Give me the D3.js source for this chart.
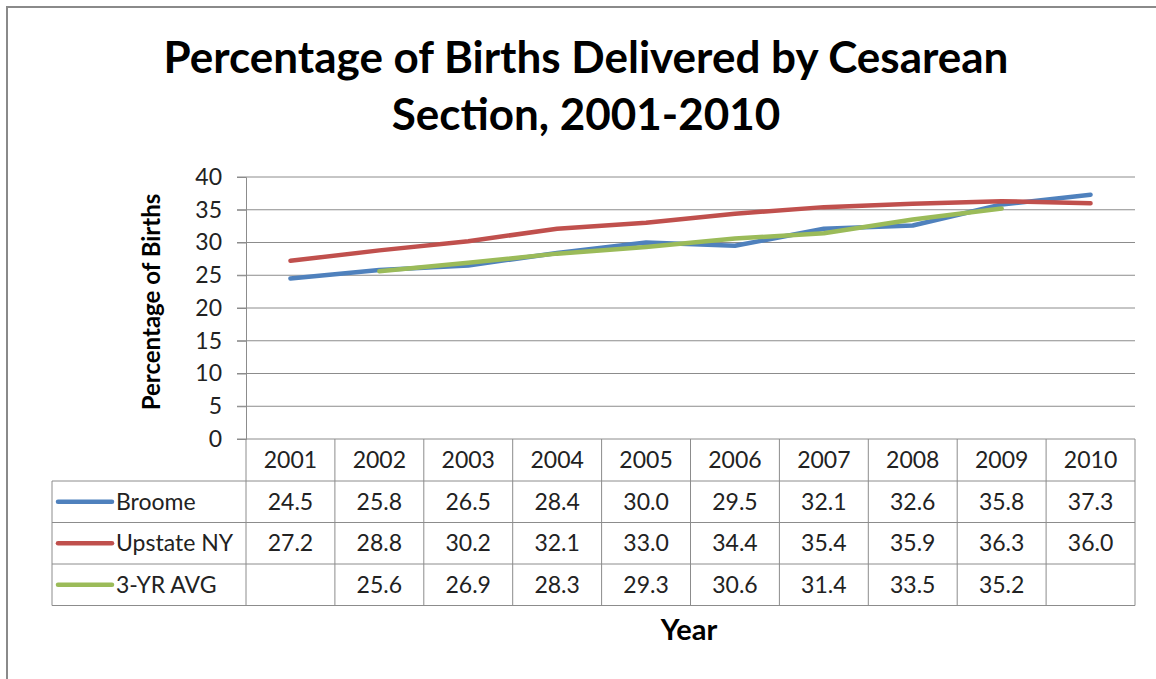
<!DOCTYPE html>
<html>
<head>
<meta charset="utf-8">
<script src="https://cdn.jsdelivr.net/npm/d3@7"></script>
<style>
  body { margin: 0; background: #fff; }
  svg { display: block; }
</style>
</head>
<body>
<div id="chart"></div>
<script>
// data
const years = ["2001", "2002", "2003", "2004", "2005", "2006", "2007", "2008", "2009", "2010"];
const broome = [24.5, 25.8, 26.5, 28.4, 30.0, 29.5, 32.1, 32.6, 35.8, 37.3];
const upstate = [27.2, 28.8, 30.2, 32.1, 33.0, 34.4, 35.4, 35.9, 36.3, 36.0];
const avg3 = [null, 25.6, 26.9, 28.3, 29.3, 30.6, 31.4, 33.5, 35.2, null];
const yTicks = [0, 5, 10, 15, 20, 25, 30, 35, 40];

const series = [
    { name: "Broome", values: broome, color: "#4F81BD" },
    { name: "Upstate NY", values: upstate, color: "#C0504D" },
    { name: "3-YR AVG", values: avg3, color: "#9BBB59" }
];

const width = 1156, height = 679;
const font = "Lato, 'Open Sans', sans-serif";
const gridColor = "#8c8c8c";
const textSize = "23px";

const svg = d3.select("#chart").append("svg")
    .attr("width", width)
    .attr("height", height);

// outer chart border (runs past the right and bottom edge)
svg.append("rect")
    .attr("x", 7).attr("y", 7)
    .attr("width", 1200).attr("height", 720)
    .attr("fill", "none")
    .attr("stroke", "#8a8a8a")
    .attr("stroke-width", 2);

// plot area
const plot = { left: 246, right: 1135, top: 177, bottom: 439 };
const x = d3.scaleBand().domain(years).range([plot.left, plot.right]);
const y = d3.scaleLinear().domain([0, 40]).range([plot.bottom, plot.top]);

// gridlines
svg.append("g")
    .selectAll("line")
    .data(yTicks)
    .enter()
    .append("line")
    .attr("x1", plot.left - 9)
    .attr("x2", plot.right)
    .attr("y1", d => y(d))
    .attr("y2", d => y(d))
    .attr("stroke", gridColor)
    .attr("stroke-width", 1);

// y axis
const yAxis = svg.append("g")
    .attr("transform", `translate(${plot.left},0)`)
    .call(d3.axisLeft(y).tickValues(yTicks).tickSize(9).tickPadding(15));
yAxis.select(".domain").attr("stroke", gridColor);
yAxis.selectAll(".tick line").attr("stroke", gridColor);
yAxis.selectAll("text")
    .style("font-family", font)
    .style("font-size", textSize)
    .style("fill", "#222");

// lines
const line = d3.line()
    .defined(d => d != null)
    .x((d, i) => x(years[i]) + x.bandwidth() / 2)
    .y(d => y(d));

svg.append("g")
    .selectAll("path")
    .data(series)
    .enter()
    .append("path")
    .attr("d", d => line(d.values))
    .attr("fill", "none")
    .attr("stroke", d => d.color)
    .attr("stroke-width", 4.5)
    .attr("stroke-linecap", "round")
    .attr("stroke-linejoin", "round");

// data table
const headerBottom = 481;
const rowH = 41.5;
const tableLeft = 52;
const tbl = svg.append("g");

// vertical lines
years.concat(["end"]).forEach((yr, i) => {
    const xx = i < years.length ? x(yr) : plot.right;
    tbl.append("line")
        .attr("x1", xx).attr("x2", xx)
        .attr("y1", plot.bottom).attr("y2", headerBottom + rowH * 3)
        .attr("stroke", gridColor);
});
tbl.append("line")
    .attr("x1", tableLeft).attr("x2", tableLeft)
    .attr("y1", headerBottom).attr("y2", headerBottom + rowH * 3)
    .attr("stroke", gridColor);
for (let r = 0; r <= 3; r++) {
    tbl.append("line")
        .attr("x1", tableLeft).attr("x2", plot.right)
        .attr("y1", headerBottom + rowH * r).attr("y2", headerBottom + rowH * r)
        .attr("stroke", gridColor);
}

// year labels
tbl.selectAll(".yr")
    .data(years)
    .enter()
    .append("text")
    .attr("x", d => x(d) + x.bandwidth() / 2)
    .attr("y", (plot.bottom + headerBottom) / 2 + 8)
    .attr("text-anchor", "middle")
    .style("font-family", font)
    .style("font-size", textSize)
    .style("fill", "#222")
    .text(d => d);

// rows
series.forEach((s, r) => {
    const cy = headerBottom + rowH * r + rowH / 2;
    tbl.append("line")
        .attr("x1", 58).attr("x2", 112)
        .attr("y1", cy).attr("y2", cy)
        .attr("stroke", s.color)
        .attr("stroke-width", 4.5)
        .attr("stroke-linecap", "round");
    tbl.append("text")
        .attr("x", 116)
        .attr("y", cy + 8)
        .style("font-family", font)
        .style("font-size", textSize)
        .style("fill", "#222")
        .text(s.name);
    s.values.forEach((v, i) => {
        if (v == null) return;
        tbl.append("text")
            .attr("x", x(years[i]) + x.bandwidth() / 2)
            .attr("y", cy + 8)
            .attr("text-anchor", "middle")
            .style("font-family", font)
            .style("font-size", textSize)
            .style("fill", "#222")
            .text(v.toFixed(1));
    });
});

// titles
const title = svg.append("text")
    .attr("text-anchor", "middle")
    .style("font-family", font)
    .style("font-size", "44px")
    .style("font-weight", "700")
    .style("fill", "#000");
title.append("tspan").attr("x", 586).attr("y", 73).text("Percentage of Births Delivered by Cesarean");
title.append("tspan").attr("x", 586).attr("y", 130).text("Section, 2001-2010");

svg.append("text")
    .attr("transform", "translate(160,302) rotate(-90)")
    .attr("text-anchor", "middle")
    .style("font-family", font)
    .style("font-size", "24px")
    .style("font-weight", "700")
    .style("fill", "#000")
    .text("Percentage of Births");

svg.append("text")
    .attr("x", 689)
    .attr("y", 640)
    .attr("text-anchor", "middle")
    .style("font-family", font)
    .style("font-size", "29px")
    .style("font-weight", "700")
    .style("fill", "#000")
    .text("Year");
</script>
</body>
</html>
